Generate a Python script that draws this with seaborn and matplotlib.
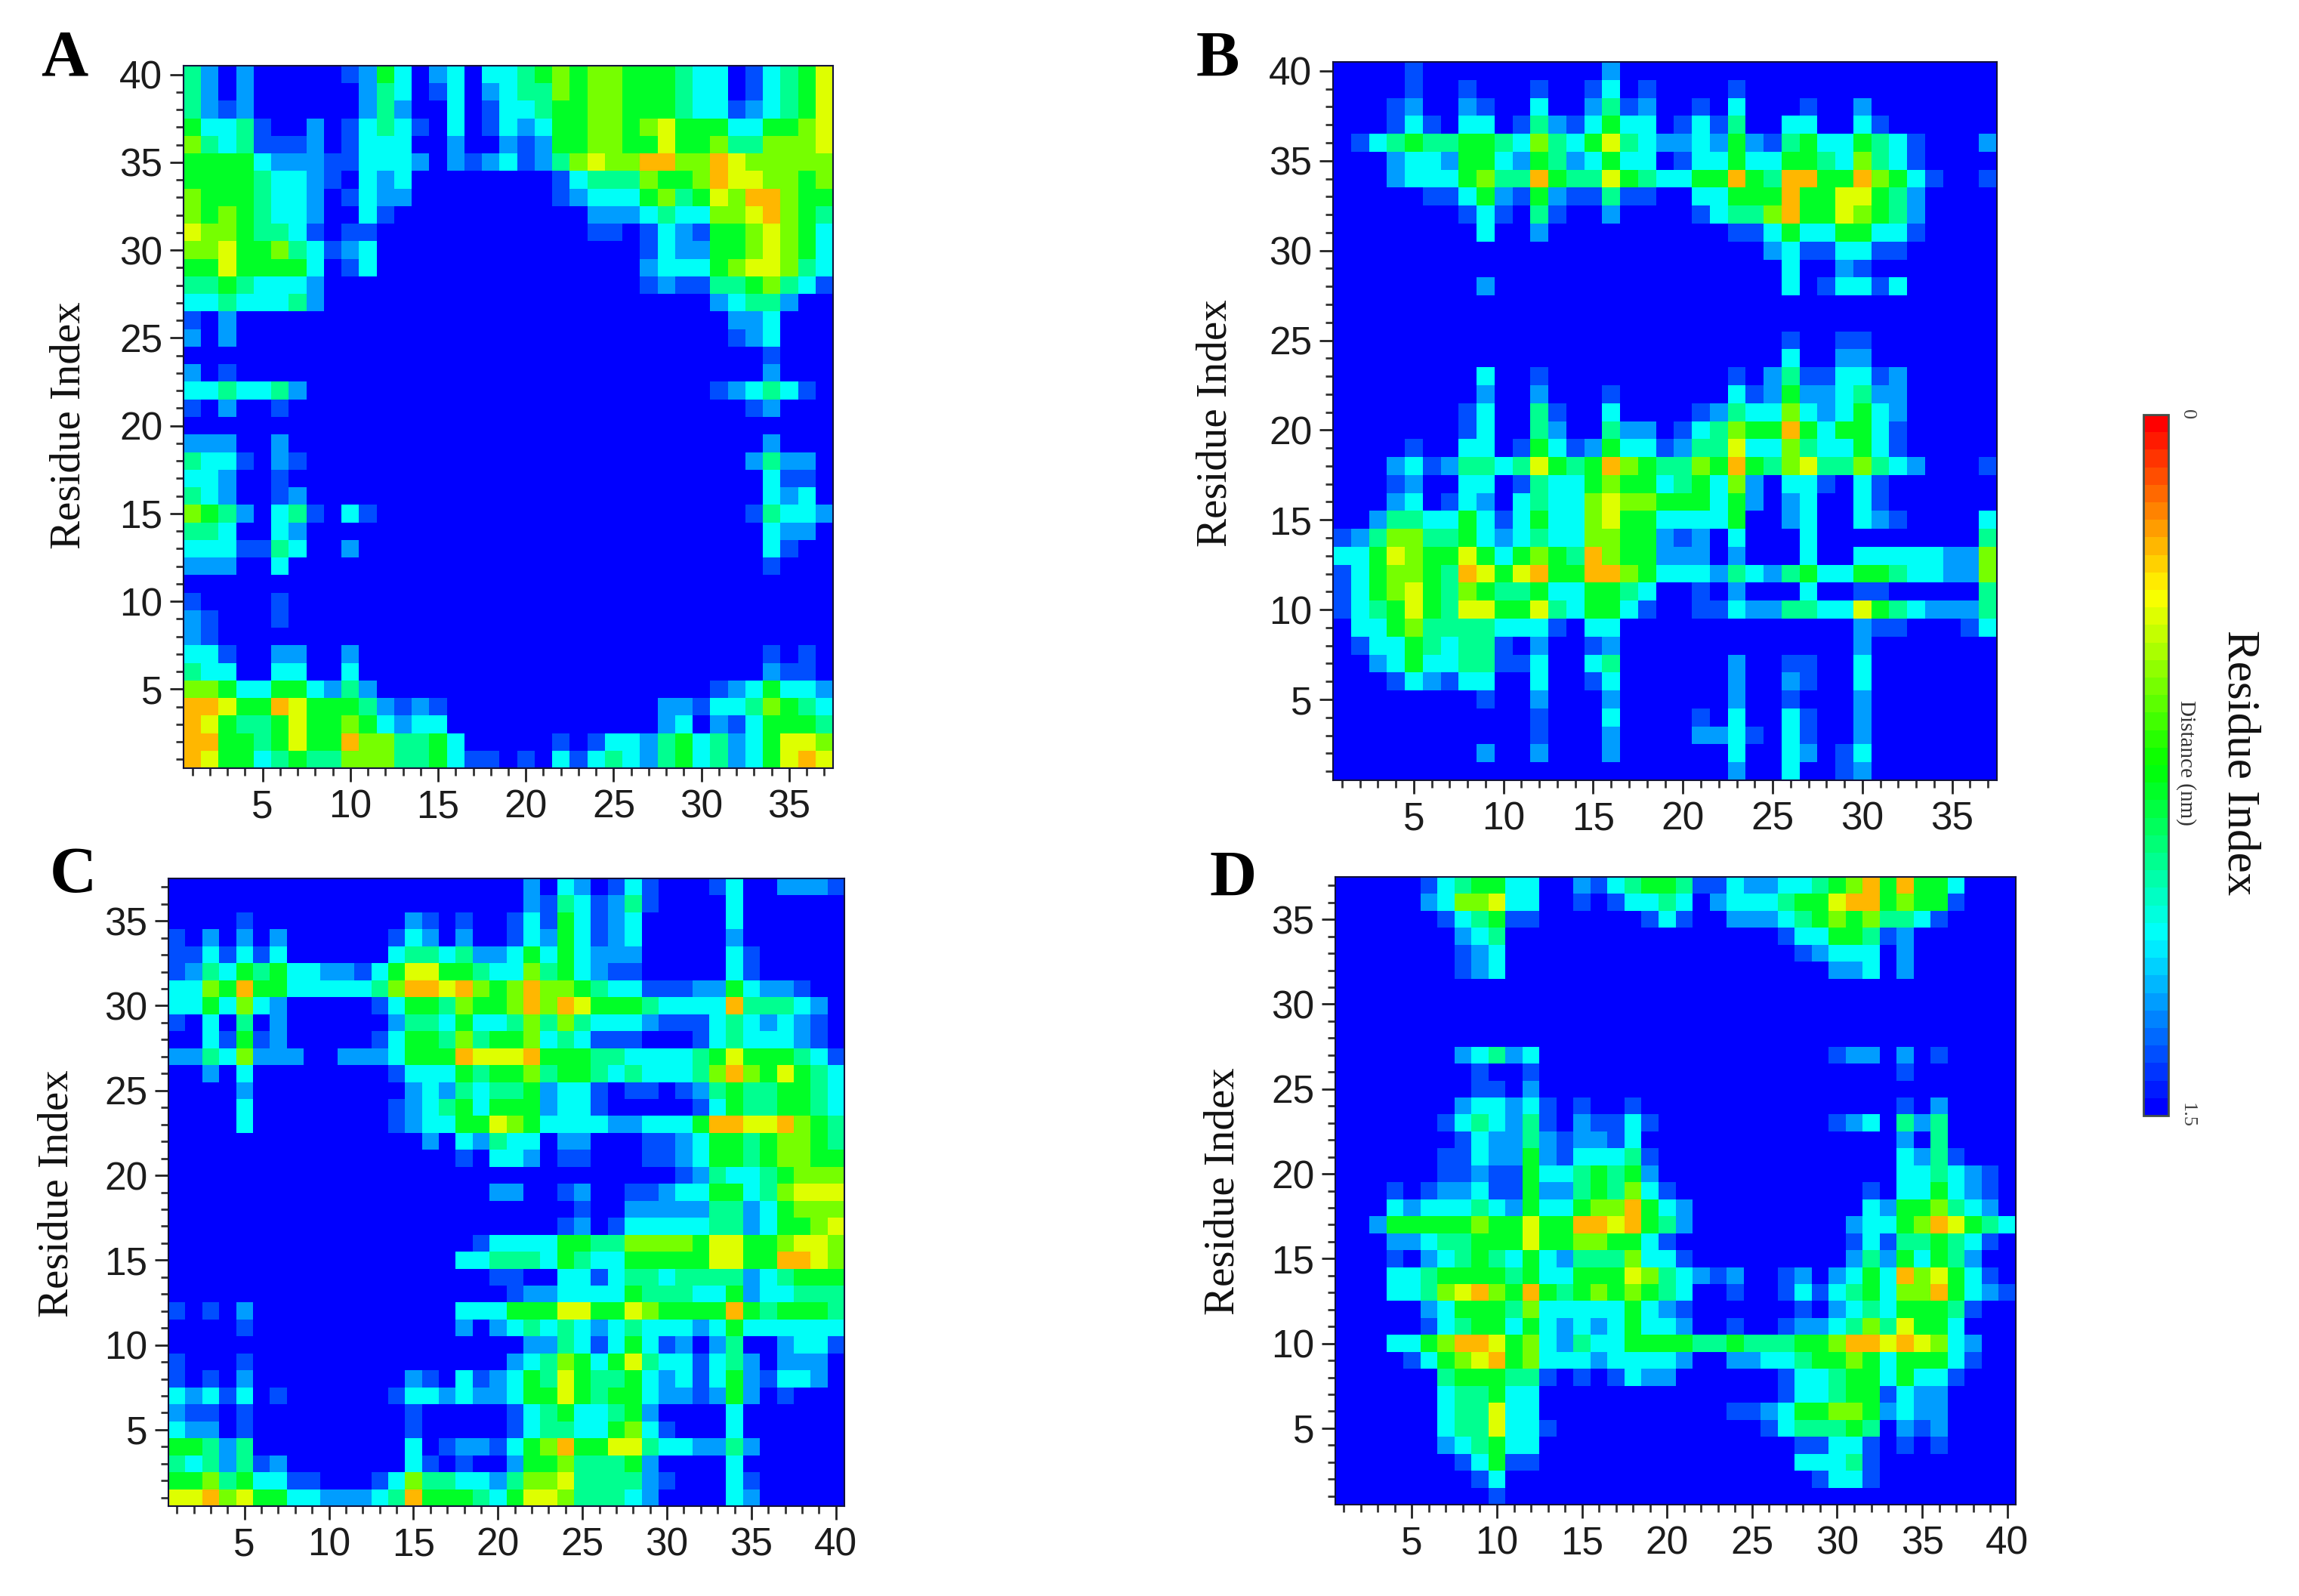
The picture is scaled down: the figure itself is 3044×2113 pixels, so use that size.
import numpy as np
import matplotlib
matplotlib.use('Agg')
import matplotlib.pyplot as plt
from matplotlib.colors import LinearSegmentedColormap
import seaborn as sns

# colour levels, one digit per cell, top row first
# 0 = deep blue ... 5 = green ... 7 = yellow, 8 = orange
level_nm = [1.5, 1.36, 1.24, 1.12, 0.97, 0.80, 0.58, 0.42, 0.27, 0.0]

panel_a_rows = [
    "42020 00001 25302 30334 56566 55543 30134 57",
    "42020 00000 24301 30234 46566 55543 30134 57",
    "42120 00000 24200 30133 45566 55543 31234 57",
    "53341 00201 34310 30132 35566 56755 53355 67",
    "64341 11201 33300 20021 25566 55755 64466 67",
    "55553 22211 33320 21231 24676 68866 87666 66",
    "55554 33210 32300 00000 01344 46556 87766 56",
    "65554 33201 32200 00000 01233 35645 76886 55",
    "65654 33200 31000 00000 00022 23433 66786 54",
    "76654 43101 10000 00000 00011 01321 55676 53",
    "66755 64312 30000 00000 00000 01322 55676 53",
    "55755 55301 30000 00000 00000 02333 56776 43",
    "44543 33200 00000 00000 00000 01211 44564 31",
    "33433 34200 00000 00000 00000 00000 23442 00",
    "10200 00000 00000 00000 00000 00000 02230 00",
    "20200 00000 00000 00000 00000 00000 01230 00",
    "00000 00000 00000 00000 00000 00000 00010 00",
    "20100 00000 00000 00000 00000 00000 00020 00",
    "33433 42000 00000 00000 00000 00000 12343 10",
    "10200 10000 00000 00000 00000 00000 00120 00",
    "",
    "22200 20000 00000 00000 00000 00000 00020 00",
    "43310 21000 00000 00000 00000 00000 00242 20",
    "33200 10000 00000 00000 00000 00000 00031 10",
    "43200 12000 00000 00000 00000 00000 00032 30",
    "65420 34103 10000 00000 00000 00000 00143 32",
    "44300 32000 00000 00000 00000 00000 00032 20",
    "33311 43002 00000 00000 00000 00000 00031 00",
    "22200 30000 00000 00000 00000 00000 00010 00",
    "",
    "10000 10000",
    "21000 10000",
    "21000",
    "33100 22002 00000 00000 00000 00000 00010 10",
    "43300 33003 00000 00000 00000 00000 00021 10",
    "66533 55324 20000 00000 00000 00000 12353 32",
    "88755 87555 42121 00000 00000 00221 33465 43",
    "87544 57556 53233 00000 00000 00230 21355 54",
    "88554 57558 66445 30000 01013 32453 42357 76",
    "87553 45446 66445 31101 03134 32453 42357 87",
]

panel_b_rows = [
    "00001 00000 00000 20000 00000 00000 00000 00",
    "00001 00100 01001 30100 00100 00000 00000 00",
    "00012 00210 03002 41200 10300 01002 00000 00",
    "00013 10330 14213 53301 31400 33003 10000 00",
    "01345 44554 36435 74322 32521 45335 43100 02",
    "00023 32553 25423 53301 33533 55436 43100 00",
    "00023 33564 48544 75433 55854 88558 65310 01",
    "00000 11352 15211 41100 33555 85577 54200 00",
    "00000 00131 04100 20000 13446 85576 54200 00",
    "00000 00030 02000 00000 00113 53355 33100 00",
    "00000 00000 00000 00000 00002 31133 11000 00",
    "00000 00000 00000 00000 00000 30021 00000 00",
    "00000 00020 00000 00000 00000 30133 13000 00",
    "",
    "",
    "00000 00000 00000 00000 00000 10011 00000 00",
    "00000 00000 00000 00000 00000 30022 00000 00",
    "00000 00030 01000 00000 00102 41133 12000 00",
    "00000 00020 02000 10000 00312 52234 22000 00",
    "00000 00130 04100 30000 12433 63235 32000 00",
    "00000 00130 04200 42201 34655 85355 31000 00",
    "00001 00330 15312 53312 44733 64335 31000 00",
    "00023 12443 47545 86544 65854 67446 43200 01",
    "00012 00330 14335 65534 53620 33103 10000 00",
    "00023 01320 34336 76655 53520 23003 10000 00",
    "00244 33531 35336 75533 33500 23003 21000 03",
    "12466 44532 34336 65521 20300 03000 00000 04",
    "33576 55753 56548 65522 20200 03003 33332 26",
    "13566 54875 78558 86533 32432 45335 54332 26",
    "13567 54654 45335 54300 10200 03001 10000 04",
    "13457 54775 57435 53100 11322 44337 54322 24",
    "03356 44443 33103 30000 00000 00002 11000 13",
    "01335 43441 02001 20000 00000 00002 00000 00",
    "00235 33441 13003 40000 00200 11003 00000 00",
    "00013 21330 03001 30000 00200 21003 00000 00",
    "00000 00010 02000 20000 00200 10002 00000 00",
    "00000 00000 01000 30000 10300 31002 00000 00",
    "00000 00000 01000 20000 22310 31002 00000 00",
    "00000 00020 02000 20000 00300 32013 00000 00",
    "00000 00000 00000 00000 00200 30012 00000 00",
]

panel_c_rows = [
    "00000 00000 00000 00000 02032 01310 00130 02221",
    "00000 00000 00000 00000 02143 12410 00030 00000",
    "00001 00000 00002 10100 13153 12300 00030 00000",
    "10202 02000 00013 20200 13253 12300 00020 00000",
    "11313 13000 00034 43422 35353 22200 00031 00000",
    "12435 45332 21357 75543 36453 21100 00031 00000",
    "33658 55333 33468 87865 68665 43311 12253 22100",
    "33536 32000 00135 54655 68687 55543 33384 44320",
    "10304 02000 00024 43533 46464 33321 11343 23210",
    "00315 12000 00135 54645 56343 11100 01343 33210",
    "22436 22200 22235 55877 78555 44333 34575 55431",
    "00203 00000 00013 33545 56455 43433 34686 57543",
    "00002 00000 00002 32434 45233 10110 12454 45543",
    "00003 00000 00012 34535 55233 10000 01354 45543",
    "00003 00000 00012 33557 65333 32233 35887 78654",
    "00000 00000 00000 20324 33022 00011 23554 56654",
    "00000 00000 00000 00103 32011 00011 23554 56655",
    "00000 00000 00000 00000 00000 00000 12433 45666",
    "00000 00000 00000 00002 20012 00112 33553 46777",
    "00000 00000 00000 00000 00001 00222 22442 35666",
    "00000 00000 00000 00000 00012 01333 33442 35567",
    "00000 00000 00000 00013 33355 44666 65775 56776",
    "00000 00000 00000 00334 44354 33555 55775 58876",
    "00000 00000 00000 00001 10033 13443 44442 34555",
    "00000 00000 00000 00000 12233 33544 43352 33444",
    "10102 00000 00000 00333 55577 55765 55585 45554",
    "00001 00000 00000 00202 34343 23433 32353 33333",
    "00000 00000 00000 00000 02243 13531 20240 02331",
    "10001 00000 00000 00000 23465 35743 31342 02220",
    "10102 00000 00002 10312 35475 44532 31352 13320",
    "32313 01000 00013 32322 35575 45532 21252 01000",
    "21101 00000 00001 00000 13453 34520 00030 00000",
    "32201 00000 00001 00000 13443 35631 00030 00000",
    "55424 00000 00003 01221 35685 57743 32242 00000",
    "43424 12000 00003 10100 25564 44520 00030 00000",
    "55645 33110 00136 44332 46674 44421 00031 00000",
    "77867 55332 22348 55543 57764 44320 00032 00000",
]

panel_d_rows = [
    "00000 13455 33002 13455 41132 23345 68585 53000",
    "00000 23667 33001 01334 30233 34557 88565 51000",
    "00000 01345 11000 00013 10022 23456 56443 10000",
    "00000 00234 00000 00000 00000 01335 54120 00000",
    "00000 00123 00000 00000 00000 00123 33020 00000",
    "00000 00123 00000 00000 00000 00002 23020 00000",
    "",
    "",
    "",
    "",
    "00000 00234 23000 00000 00000 00001 22020 10000",
    "00000 00010 01000 00000 00000 00000 00010 00000",
    "00000 00011 02000 00000 00000 00000 00000 00000",
    "00000 00233 23101 00100 00000 00000 00010 20000",
    "00000 01343 24102 11310 00000 00001 23042 40000",
    "00000 00132 24212 21300 00000 00000 00020 40000",
    "00000 01132 25213 33410 00000 00000 00032 41000",
    "00000 01121 15334 54520 00000 00000 00033 43210",
    "00010 12231 15224 54631 00000 00000 01033 53210",
    "00032 33343 25335 66853 20000 00000 03255 64320",
    "00255 55565 57558 87854 20000 00000 23356 87543",
    "00022 34455 57556 65531 00000 00000 13144 54310",
    "00010 23454 35324 44633 10000 00000 24253 54200",
    "00033 45555 45335 55764 32120 01202 35386 75310",
    "00033 46786 58545 65654 30010 01313 45366 85321",
    "00000 23555 46333 33532 10000 00102 34355 54100",
    "00000 13455 35323 23533 20010 01223 46475 53000",
    "00033 56887 56324 33555 54454 44556 88787 63200",
    "00001 35678 56333 23333 20022 33455 65355 53100",
    "00000 04555 44101 01322 00000 01334 55353 31000",
    "00000 03445 33000 00000 00000 01334 55132 20000",
    "00000 03447 33000 00000 00011 23556 65232 20000",
    "00000 03447 33100 00000 00000 13444 54021 20000",
    "00000 02345 33000 00000 00000 00113 31010 10000",
    "00000 00135 11000 00000 00000 00333 41000 00000",
    "00000 00013 00000 00000 00000 00013 31000 00000",
    "00000 00001 00000 00000 00000 00000 00000 00000",
]

rainbow = ['#ff0000', '#ffff00', '#00ff00', '#00ffff', '#0000ff']
W, H = 3044, 2113


def rows_to_nm(rows, ncols):
    grid = []
    for r in rows:
        r = r.replace(' ', '').ljust(ncols, '0')
        assert len(r) == ncols, r
        grid.append([level_nm[int(c)] for c in r])
    return np.array(grid)


def px_axes(fig, left, right, top, bottom):
    return fig.add_axes([left / W, 1 - bottom / H, (right - left) / W, (bottom - top) / H])


sns.set_style('white')
plt.rcParams['font.family'] = ['Liberation Sans', 'DejaVu Sans']
cmap = LinearSegmentedColormap.from_list('dist', rainbow, N=40)
fig = plt.figure(figsize=(W / 100, H / 100), dpi=100)

# letter, rows, box in pixels, y-label centre, letter position
panels = [
    ('A', panel_a_rows, 37, 40, (243, 1103, 87, 1017), (92, 563), (85, 79)),
    ('B', panel_b_rows, 37, 40, (1765, 2644, 82, 1033), (1610, 560), (1612, 80)),
    ('C', panel_c_rows, 40, 37, (223, 1118, 1163, 1994), (76, 1580), (97, 1160)),
    ('D', panel_d_rows, 40, 37, (1768, 2669, 1161, 1992), (1620, 1577), (1633, 1165)),
]

mesh = None
for letter, rows, ncols, nrows, box, ylab, let in panels:
    ax = px_axes(fig, box[0], box[1], box[2], box[3])
    data = rows_to_nm(rows, ncols)
    sns.heatmap(data, ax=ax, cmap=cmap, vmin=0, vmax=1.5, cbar=False,
                xticklabels=False, yticklabels=False)
    mesh = ax.collections[0]

    # residue i sits in the middle of cell i
    xt = list(range(5, ncols + 1, 5))
    yt = list(range(5, nrows + 1, 5))
    ax.set_xticks([v - 0.5 for v in xt])
    ax.set_xticklabels([str(v) for v in xt], fontsize=37, color='#1c1c1c')
    ax.set_yticks([nrows - v + 0.5 for v in yt])
    ax.set_yticklabels([str(v) for v in yt], fontsize=37, color='#1c1c1c', rotation=0)
    ax.set_xticks([v - 0.5 for v in range(1, ncols + 1)], minor=True)
    ax.set_yticks([nrows - v + 0.5 for v in range(1, nrows + 1)], minor=True)
    ax.tick_params(axis='both', which='major', length=13, width=2, color='#222222',
                   pad=7, bottom=True, left=True)
    ax.tick_params(axis='both', which='minor', length=7, width=2, color='#333333',
                   bottom=True, left=True)
    for s in ax.spines.values():
        s.set_visible(True)
        s.set_linewidth(1.5)
        s.set_color('#12123a')

    fig.text(ylab[0] / W, 1 - ylab[1] / H, 'Residue Index', rotation=90, ha='center',
             va='center', fontsize=41, family='Liberation Serif', color='#111111')
    fig.text(let[0] / W, 1 - let[1] / H, letter, ha='center', va='center', fontsize=62,
             family='Liberation Serif', fontweight='bold', color='black')

# colour bar, red (0 nm) on top
cax = px_axes(fig, 2838, 2871, 549, 1477)
cb = fig.colorbar(mesh, cax=cax)
cax.invert_yaxis()
cb.set_ticks([0, 1.5])
cb.set_ticklabels(['0', '1.5'])
cax.tick_params(axis='y', length=0, pad=10, labelsize=19, labelcolor='#444444',
                labelrotation=270)
for t in cax.get_yticklabels():
    t.set_family('Liberation Serif')
    t.set_va('center')
cb.outline.set_linewidth(2)
cb.outline.set_edgecolor('#44504a')

fig.text(2894 / W, 1 - 1010 / H, 'Distance (nm)', rotation=270, ha='center', va='center',
         fontsize=21, family='Liberation Serif', color='#333333')
fig.text(2965 / W, 1 - 1010 / H, 'Residue Index', rotation=270, ha='center', va='center',
         fontsize=44, family='Liberation Serif', color='#111111')

fig.savefig('out.png', dpi=100, facecolor='white')
